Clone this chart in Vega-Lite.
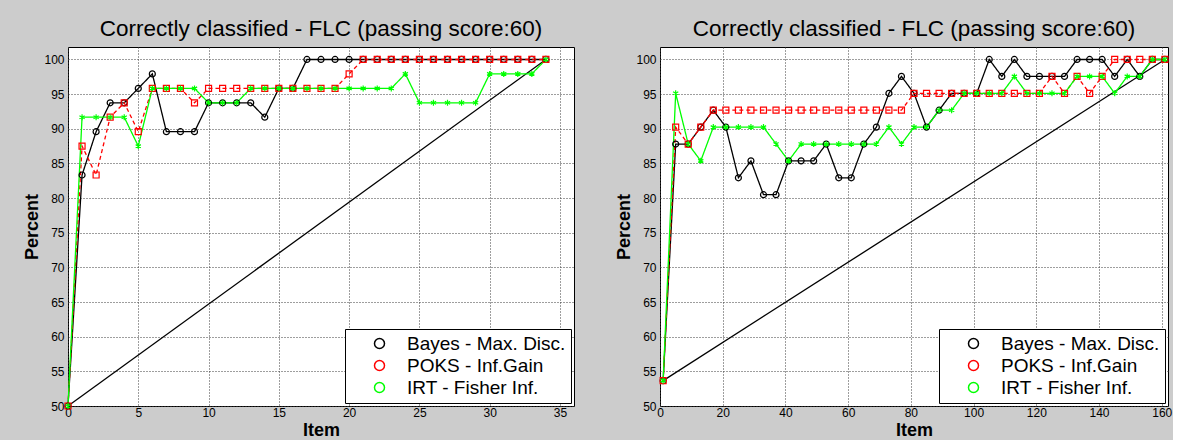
{
  "$schema": "https://vega.github.io/schema/vega-lite/v6.json",
  "background": "#cccccc",
  "padding": {"left": 23, "top": 17, "right": 0, "bottom": 0},
  "spacing": 40,
  "resolve": {"scale": {"x": "independent", "y": "independent", "color": "independent", "stroke": "independent", "shape": "independent", "strokeDash": "independent"}, "legend": {"color": "independent"}},
  "datasets": {
    "leftBase": [{"x": 0, "y": 50}, {"x": 34, "y": 100}],
    "rightBase": [{"x": 1, "y": 53.66}, {"x": 161, "y": 100}],
    "left": [
      {"x":0,"y":50,"s":"Bayes - Max. Disc."},{"x":1,"y":83.33,"s":"Bayes - Max. Disc."},{"x":2,"y":89.58,"s":"Bayes - Max. Disc."},{"x":3,"y":93.75,"s":"Bayes - Max. Disc."},{"x":4,"y":93.75,"s":"Bayes - Max. Disc."},{"x":5,"y":95.83,"s":"Bayes - Max. Disc."},{"x":6,"y":97.92,"s":"Bayes - Max. Disc."},{"x":7,"y":89.58,"s":"Bayes - Max. Disc."},{"x":8,"y":89.58,"s":"Bayes - Max. Disc."},{"x":9,"y":89.58,"s":"Bayes - Max. Disc."},{"x":10,"y":93.75,"s":"Bayes - Max. Disc."},{"x":11,"y":93.75,"s":"Bayes - Max. Disc."},{"x":12,"y":93.75,"s":"Bayes - Max. Disc."},{"x":13,"y":93.75,"s":"Bayes - Max. Disc."},{"x":14,"y":91.67,"s":"Bayes - Max. Disc."},{"x":15,"y":95.83,"s":"Bayes - Max. Disc."},{"x":16,"y":95.83,"s":"Bayes - Max. Disc."},{"x":17,"y":100,"s":"Bayes - Max. Disc."},{"x":18,"y":100,"s":"Bayes - Max. Disc."},{"x":19,"y":100,"s":"Bayes - Max. Disc."},{"x":20,"y":100,"s":"Bayes - Max. Disc."},{"x":21,"y":100,"s":"Bayes - Max. Disc."},{"x":22,"y":100,"s":"Bayes - Max. Disc."},{"x":23,"y":100,"s":"Bayes - Max. Disc."},{"x":24,"y":100,"s":"Bayes - Max. Disc."},{"x":25,"y":100,"s":"Bayes - Max. Disc."},{"x":26,"y":100,"s":"Bayes - Max. Disc."},{"x":27,"y":100,"s":"Bayes - Max. Disc."},{"x":28,"y":100,"s":"Bayes - Max. Disc."},{"x":29,"y":100,"s":"Bayes - Max. Disc."},{"x":30,"y":100,"s":"Bayes - Max. Disc."},{"x":31,"y":100,"s":"Bayes - Max. Disc."},{"x":32,"y":100,"s":"Bayes - Max. Disc."},{"x":33,"y":100,"s":"Bayes - Max. Disc."},{"x":34,"y":100,"s":"Bayes - Max. Disc."},
      {"x":0,"y":50,"s":"POKS - Inf.Gain"},{"x":1,"y":87.5,"s":"POKS - Inf.Gain"},{"x":2,"y":83.33,"s":"POKS - Inf.Gain"},{"x":3,"y":91.67,"s":"POKS - Inf.Gain"},{"x":4,"y":93.75,"s":"POKS - Inf.Gain"},{"x":5,"y":89.58,"s":"POKS - Inf.Gain"},{"x":6,"y":95.83,"s":"POKS - Inf.Gain"},{"x":7,"y":95.83,"s":"POKS - Inf.Gain"},{"x":8,"y":95.83,"s":"POKS - Inf.Gain"},{"x":9,"y":93.75,"s":"POKS - Inf.Gain"},{"x":10,"y":95.83,"s":"POKS - Inf.Gain"},{"x":11,"y":95.83,"s":"POKS - Inf.Gain"},{"x":12,"y":95.83,"s":"POKS - Inf.Gain"},{"x":13,"y":95.83,"s":"POKS - Inf.Gain"},{"x":14,"y":95.83,"s":"POKS - Inf.Gain"},{"x":15,"y":95.83,"s":"POKS - Inf.Gain"},{"x":16,"y":95.83,"s":"POKS - Inf.Gain"},{"x":17,"y":95.83,"s":"POKS - Inf.Gain"},{"x":18,"y":95.83,"s":"POKS - Inf.Gain"},{"x":19,"y":95.83,"s":"POKS - Inf.Gain"},{"x":20,"y":97.92,"s":"POKS - Inf.Gain"},{"x":21,"y":100,"s":"POKS - Inf.Gain"},{"x":22,"y":100,"s":"POKS - Inf.Gain"},{"x":23,"y":100,"s":"POKS - Inf.Gain"},{"x":24,"y":100,"s":"POKS - Inf.Gain"},{"x":25,"y":100,"s":"POKS - Inf.Gain"},{"x":26,"y":100,"s":"POKS - Inf.Gain"},{"x":27,"y":100,"s":"POKS - Inf.Gain"},{"x":28,"y":100,"s":"POKS - Inf.Gain"},{"x":29,"y":100,"s":"POKS - Inf.Gain"},{"x":30,"y":100,"s":"POKS - Inf.Gain"},{"x":31,"y":100,"s":"POKS - Inf.Gain"},{"x":32,"y":100,"s":"POKS - Inf.Gain"},{"x":33,"y":100,"s":"POKS - Inf.Gain"},{"x":34,"y":100,"s":"POKS - Inf.Gain"},
      {"x":0,"y":50,"s":"IRT - Fisher Inf."},{"x":1,"y":91.67,"s":"IRT - Fisher Inf."},{"x":2,"y":91.67,"s":"IRT - Fisher Inf."},{"x":3,"y":91.67,"s":"IRT - Fisher Inf."},{"x":4,"y":91.67,"s":"IRT - Fisher Inf."},{"x":5,"y":87.5,"s":"IRT - Fisher Inf."},{"x":6,"y":95.83,"s":"IRT - Fisher Inf."},{"x":7,"y":95.83,"s":"IRT - Fisher Inf."},{"x":8,"y":95.83,"s":"IRT - Fisher Inf."},{"x":9,"y":95.83,"s":"IRT - Fisher Inf."},{"x":10,"y":93.75,"s":"IRT - Fisher Inf."},{"x":11,"y":93.75,"s":"IRT - Fisher Inf."},{"x":12,"y":93.75,"s":"IRT - Fisher Inf."},{"x":13,"y":95.83,"s":"IRT - Fisher Inf."},{"x":14,"y":95.83,"s":"IRT - Fisher Inf."},{"x":15,"y":95.83,"s":"IRT - Fisher Inf."},{"x":16,"y":95.83,"s":"IRT - Fisher Inf."},{"x":17,"y":95.83,"s":"IRT - Fisher Inf."},{"x":18,"y":95.83,"s":"IRT - Fisher Inf."},{"x":19,"y":95.83,"s":"IRT - Fisher Inf."},{"x":20,"y":95.83,"s":"IRT - Fisher Inf."},{"x":21,"y":95.83,"s":"IRT - Fisher Inf."},{"x":22,"y":95.83,"s":"IRT - Fisher Inf."},{"x":23,"y":95.83,"s":"IRT - Fisher Inf."},{"x":24,"y":97.92,"s":"IRT - Fisher Inf."},{"x":25,"y":93.75,"s":"IRT - Fisher Inf."},{"x":26,"y":93.75,"s":"IRT - Fisher Inf."},{"x":27,"y":93.75,"s":"IRT - Fisher Inf."},{"x":28,"y":93.75,"s":"IRT - Fisher Inf."},{"x":29,"y":93.75,"s":"IRT - Fisher Inf."},{"x":30,"y":97.92,"s":"IRT - Fisher Inf."},{"x":31,"y":97.92,"s":"IRT - Fisher Inf."},{"x":32,"y":97.92,"s":"IRT - Fisher Inf."},{"x":33,"y":97.92,"s":"IRT - Fisher Inf."},{"x":34,"y":100,"s":"IRT - Fisher Inf."}
    ],
    "right": [
      {"x":1,"y":53.66,"s":"Bayes - Max. Disc."},{"x":5,"y":87.8,"s":"Bayes - Max. Disc."},{"x":9,"y":87.8,"s":"Bayes - Max. Disc."},{"x":13,"y":90.24,"s":"Bayes - Max. Disc."},{"x":17,"y":92.68,"s":"Bayes - Max. Disc."},{"x":21,"y":90.24,"s":"Bayes - Max. Disc."},{"x":25,"y":82.93,"s":"Bayes - Max. Disc."},{"x":29,"y":85.37,"s":"Bayes - Max. Disc."},{"x":33,"y":80.49,"s":"Bayes - Max. Disc."},{"x":37,"y":80.49,"s":"Bayes - Max. Disc."},{"x":41,"y":85.37,"s":"Bayes - Max. Disc."},{"x":45,"y":85.37,"s":"Bayes - Max. Disc."},{"x":49,"y":85.37,"s":"Bayes - Max. Disc."},{"x":53,"y":87.8,"s":"Bayes - Max. Disc."},{"x":57,"y":82.93,"s":"Bayes - Max. Disc."},{"x":61,"y":82.93,"s":"Bayes - Max. Disc."},{"x":65,"y":87.8,"s":"Bayes - Max. Disc."},{"x":69,"y":90.24,"s":"Bayes - Max. Disc."},{"x":73,"y":95.12,"s":"Bayes - Max. Disc."},{"x":77,"y":97.56,"s":"Bayes - Max. Disc."},{"x":81,"y":95.12,"s":"Bayes - Max. Disc."},{"x":85,"y":90.24,"s":"Bayes - Max. Disc."},{"x":89,"y":92.68,"s":"Bayes - Max. Disc."},{"x":93,"y":95.12,"s":"Bayes - Max. Disc."},{"x":97,"y":95.12,"s":"Bayes - Max. Disc."},{"x":101,"y":95.12,"s":"Bayes - Max. Disc."},{"x":105,"y":100,"s":"Bayes - Max. Disc."},{"x":109,"y":97.56,"s":"Bayes - Max. Disc."},{"x":113,"y":100,"s":"Bayes - Max. Disc."},{"x":117,"y":97.56,"s":"Bayes - Max. Disc."},{"x":121,"y":97.56,"s":"Bayes - Max. Disc."},{"x":125,"y":97.56,"s":"Bayes - Max. Disc."},{"x":129,"y":97.56,"s":"Bayes - Max. Disc."},{"x":133,"y":100,"s":"Bayes - Max. Disc."},{"x":137,"y":100,"s":"Bayes - Max. Disc."},{"x":141,"y":100,"s":"Bayes - Max. Disc."},{"x":145,"y":97.56,"s":"Bayes - Max. Disc."},{"x":149,"y":100,"s":"Bayes - Max. Disc."},{"x":153,"y":97.56,"s":"Bayes - Max. Disc."},{"x":157,"y":100,"s":"Bayes - Max. Disc."},{"x":161,"y":100,"s":"Bayes - Max. Disc."},
      {"x":1,"y":53.66,"s":"POKS - Inf.Gain"},{"x":5,"y":90.24,"s":"POKS - Inf.Gain"},{"x":9,"y":87.8,"s":"POKS - Inf.Gain"},{"x":13,"y":90.24,"s":"POKS - Inf.Gain"},{"x":17,"y":92.68,"s":"POKS - Inf.Gain"},{"x":21,"y":92.68,"s":"POKS - Inf.Gain"},{"x":25,"y":92.68,"s":"POKS - Inf.Gain"},{"x":29,"y":92.68,"s":"POKS - Inf.Gain"},{"x":33,"y":92.68,"s":"POKS - Inf.Gain"},{"x":37,"y":92.68,"s":"POKS - Inf.Gain"},{"x":41,"y":92.68,"s":"POKS - Inf.Gain"},{"x":45,"y":92.68,"s":"POKS - Inf.Gain"},{"x":49,"y":92.68,"s":"POKS - Inf.Gain"},{"x":53,"y":92.68,"s":"POKS - Inf.Gain"},{"x":57,"y":92.68,"s":"POKS - Inf.Gain"},{"x":61,"y":92.68,"s":"POKS - Inf.Gain"},{"x":65,"y":92.68,"s":"POKS - Inf.Gain"},{"x":69,"y":92.68,"s":"POKS - Inf.Gain"},{"x":73,"y":92.68,"s":"POKS - Inf.Gain"},{"x":77,"y":92.68,"s":"POKS - Inf.Gain"},{"x":81,"y":95.12,"s":"POKS - Inf.Gain"},{"x":85,"y":95.12,"s":"POKS - Inf.Gain"},{"x":89,"y":95.12,"s":"POKS - Inf.Gain"},{"x":93,"y":95.12,"s":"POKS - Inf.Gain"},{"x":97,"y":95.12,"s":"POKS - Inf.Gain"},{"x":101,"y":95.12,"s":"POKS - Inf.Gain"},{"x":105,"y":95.12,"s":"POKS - Inf.Gain"},{"x":109,"y":95.12,"s":"POKS - Inf.Gain"},{"x":113,"y":95.12,"s":"POKS - Inf.Gain"},{"x":117,"y":95.12,"s":"POKS - Inf.Gain"},{"x":121,"y":95.12,"s":"POKS - Inf.Gain"},{"x":125,"y":97.56,"s":"POKS - Inf.Gain"},{"x":129,"y":95.12,"s":"POKS - Inf.Gain"},{"x":133,"y":97.56,"s":"POKS - Inf.Gain"},{"x":137,"y":95.12,"s":"POKS - Inf.Gain"},{"x":141,"y":97.56,"s":"POKS - Inf.Gain"},{"x":145,"y":100,"s":"POKS - Inf.Gain"},{"x":149,"y":100,"s":"POKS - Inf.Gain"},{"x":153,"y":100,"s":"POKS - Inf.Gain"},{"x":157,"y":100,"s":"POKS - Inf.Gain"},{"x":161,"y":100,"s":"POKS - Inf.Gain"},
      {"x":1,"y":53.66,"s":"IRT - Fisher Inf."},{"x":5,"y":95.12,"s":"IRT - Fisher Inf."},{"x":9,"y":87.8,"s":"IRT - Fisher Inf."},{"x":13,"y":85.37,"s":"IRT - Fisher Inf."},{"x":17,"y":90.24,"s":"IRT - Fisher Inf."},{"x":21,"y":90.24,"s":"IRT - Fisher Inf."},{"x":25,"y":90.24,"s":"IRT - Fisher Inf."},{"x":29,"y":90.24,"s":"IRT - Fisher Inf."},{"x":33,"y":90.24,"s":"IRT - Fisher Inf."},{"x":37,"y":87.8,"s":"IRT - Fisher Inf."},{"x":41,"y":85.37,"s":"IRT - Fisher Inf."},{"x":45,"y":87.8,"s":"IRT - Fisher Inf."},{"x":49,"y":87.8,"s":"IRT - Fisher Inf."},{"x":53,"y":87.8,"s":"IRT - Fisher Inf."},{"x":57,"y":87.8,"s":"IRT - Fisher Inf."},{"x":61,"y":87.8,"s":"IRT - Fisher Inf."},{"x":65,"y":87.8,"s":"IRT - Fisher Inf."},{"x":69,"y":87.8,"s":"IRT - Fisher Inf."},{"x":73,"y":90.24,"s":"IRT - Fisher Inf."},{"x":77,"y":87.8,"s":"IRT - Fisher Inf."},{"x":81,"y":90.24,"s":"IRT - Fisher Inf."},{"x":85,"y":90.24,"s":"IRT - Fisher Inf."},{"x":89,"y":92.68,"s":"IRT - Fisher Inf."},{"x":93,"y":92.68,"s":"IRT - Fisher Inf."},{"x":97,"y":95.12,"s":"IRT - Fisher Inf."},{"x":101,"y":95.12,"s":"IRT - Fisher Inf."},{"x":105,"y":95.12,"s":"IRT - Fisher Inf."},{"x":109,"y":95.12,"s":"IRT - Fisher Inf."},{"x":113,"y":97.56,"s":"IRT - Fisher Inf."},{"x":117,"y":95.12,"s":"IRT - Fisher Inf."},{"x":121,"y":95.12,"s":"IRT - Fisher Inf."},{"x":125,"y":95.12,"s":"IRT - Fisher Inf."},{"x":129,"y":95.12,"s":"IRT - Fisher Inf."},{"x":133,"y":97.56,"s":"IRT - Fisher Inf."},{"x":137,"y":97.56,"s":"IRT - Fisher Inf."},{"x":141,"y":97.56,"s":"IRT - Fisher Inf."},{"x":145,"y":95.12,"s":"IRT - Fisher Inf."},{"x":149,"y":97.56,"s":"IRT - Fisher Inf."},{"x":153,"y":97.56,"s":"IRT - Fisher Inf."},{"x":157,"y":100,"s":"IRT - Fisher Inf."},{"x":161,"y":100,"s":"IRT - Fisher Inf."}
    ]
  },
  "hconcat": [
    {
      "width": 506,
      "height": 359,
      "title": "Correctly classified - FLC (passing score:60)",
      "encoding": {
        "x": {"field": "x", "type": "quantitative", "title": "Item", "scale": {"domain": [0, 36], "nice": false, "zero": false}, "axis": {"values": [0, 5, 10, 15, 20, 25, 30, 35]}},
        "y": {"field": "y", "type": "quantitative", "title": "Percent", "scale": {"domain": [50, 101.8], "nice": false, "zero": false}, "axis": {"values": [50, 55, 60, 65, 70, 75, 80, 85, 90, 95, 100]}}
      },
      "layer": [
        {"data": {"name": "leftBase"}, "mark": {"type": "line", "color": "#000000", "strokeWidth": 1.3}, "encoding": {}},
        {"data": {"name": "left"}, "mark": {"type": "line", "strokeWidth": 1.3},
          "encoding": {
            "stroke": {"field": "s", "type": "nominal", "scale": {"range": ["#000000", "#00ff00", "#ff0000"]}, "legend": null},
            "strokeDash": {"field": "s", "type": "nominal", "scale": {"range": [[1, 0], [1, 0], [4, 3]]}, "legend": null}
          }},
        {"data": {"name": "left"}, "mark": {"type": "point", "filled": false, "size": 36, "strokeWidth": 1.2, "opacity": 1},
          "encoding": {
            "color": {"field": "s", "type": "nominal", "scale": {"domain": ["Bayes - Max. Disc.", "POKS - Inf.Gain", "IRT - Fisher Inf."], "range": ["#000000", "#ff0000", "#00ff00"]},
              "legend": {"title": null, "labelExpr": "datum.label + '\u00a0\u00a0\u00a0\u00a0\u00a0\u00a0\u00a0\u00a0\u00a0\u00a0\u00a0\u00a0\u00a0'",
                "encode": {"symbols": {"shape": {"condition": [
                  {"test": "datum.value === 'Bayes - Max. Disc.'", "value": "M-3.3,0H-0.7M0.7,0H3.3M-0.7,0A0.7,0.7 0 1,0 0.7,0A0.7,0.7 0 1,0 -0.7,0"},
                  {"test": "datum.value === 'POKS - Inf.Gain'", "value": "M-3.3,0H-2.6M-2,0H-1.3M-0.7,-0.7H0.7V0.7H-0.7ZM-0.35,0H0.35M1.3,0H2M2.6,0H3.3"}],
                  "value": "M-3.3,0H3.3M0,-0.75V0.75M-0.65,-0.38L0.65,0.38M-0.65,0.38L0.65,-0.38"},
                  "size": {"value": 100}}}}},
            "shape": {"field": "s", "type": "nominal", "scale": {"range": ["circle", "M0,-1V1M-0.87,-0.5L0.87,0.5M-0.87,0.5L0.87,-0.5", "square"]}, "legend": null}
          }}
      ]
    },
    {
      "width": 508,
      "height": 359,
      "title": "Correctly classified - FLC (passing score:60)",
      "encoding": {
        "x": {"field": "x", "type": "quantitative", "title": "Item", "scale": {"domain": [0, 162], "nice": false, "zero": false}, "axis": {"values": [0, 20, 40, 60, 80, 100, 120, 140, 160]}},
        "y": {"field": "y", "type": "quantitative", "title": "Percent", "scale": {"domain": [50, 101.8], "nice": false, "zero": false}, "axis": {"values": [50, 55, 60, 65, 70, 75, 80, 85, 90, 95, 100]}}
      },
      "layer": [
        {"data": {"name": "rightBase"}, "mark": {"type": "line", "color": "#000000", "strokeWidth": 1.3}, "encoding": {}},
        {"data": {"name": "right"}, "mark": {"type": "line", "strokeWidth": 1.3},
          "encoding": {
            "stroke": {"field": "s", "type": "nominal", "scale": {"range": ["#000000", "#00ff00", "#ff0000"]}, "legend": null},
            "strokeDash": {"field": "s", "type": "nominal", "scale": {"range": [[1, 0], [1, 0], [4, 3]]}, "legend": null}
          }},
        {"data": {"name": "right"}, "mark": {"type": "point", "filled": false, "size": 36, "strokeWidth": 1.2, "opacity": 1},
          "encoding": {
            "color": {"field": "s", "type": "nominal", "scale": {"domain": ["Bayes - Max. Disc.", "POKS - Inf.Gain", "IRT - Fisher Inf."], "range": ["#000000", "#ff0000", "#00ff00"]},
              "legend": {"title": null, "labelExpr": "datum.label + '\u00a0\u00a0\u00a0\u00a0\u00a0\u00a0\u00a0\u00a0\u00a0\u00a0\u00a0\u00a0\u00a0'",
                "encode": {"symbols": {"shape": {"condition": [
                  {"test": "datum.value === 'Bayes - Max. Disc.'", "value": "M-3.3,0H-0.7M0.7,0H3.3M-0.7,0A0.7,0.7 0 1,0 0.7,0A0.7,0.7 0 1,0 -0.7,0"},
                  {"test": "datum.value === 'POKS - Inf.Gain'", "value": "M-3.3,0H-2.6M-2,0H-1.3M-0.7,-0.7H0.7V0.7H-0.7ZM-0.35,0H0.35M1.3,0H2M2.6,0H3.3"}],
                  "value": "M-3.3,0H3.3M0,-0.75V0.75M-0.65,-0.38L0.65,0.38M-0.65,0.38L0.65,-0.38"},
                  "size": {"value": 100}}}}},
            "shape": {"field": "s", "type": "nominal", "scale": {"range": ["circle", "M0,-1V1M-0.87,-0.5L0.87,0.5M-0.87,0.5L0.87,-0.5", "square"]}, "legend": null}
          }}
      ]
    }
  ],
  "config": {
    "font": "Liberation Sans",
    "view": {"stroke": "#000000", "strokeWidth": 1, "fill": "#ffffff"},
    "title": {"font": "Liberation Sans", "fontSize": 22.5, "fontWeight": "normal", "color": "#000000", "baseline": "alphabetic", "offset": 6.5, "anchor": "middle", "frame": "group"},
    "axis": {"grid": true, "gridColor": "#3c3c3c", "gridDash": [1, 2], "gridWidth": 1, "gridOpacity": 1, "domain": false, "ticks": false, "tickSize": 0, "labelFont": "Liberation Sans", "labelFontSize": 12, "labelColor": "#000000", "labelPadding": 4, "labelFlush": false, "labelOverlap": false, "titleFont": "Liberation Sans", "titleFontSize": 18, "titleFontWeight": "bold", "titleColor": "#000000", "titlePadding": 2},
    "axisX": {"labelPadding": 1, "titlePadding": 3},
    "legend": {"orient": "bottom-right", "offset": 3, "fillColor": "#ffffff", "strokeColor": "#000000", "padding": 5, "labelFont": "Liberation Sans", "labelFontSize": 19, "labelColor": "#000000", "labelLimit": 400, "rowPadding": 2, "symbolSize": 100, "symbolStrokeWidth": 1.5, "symbolOffset": 20, "labelOffset": 18}
  }
}
